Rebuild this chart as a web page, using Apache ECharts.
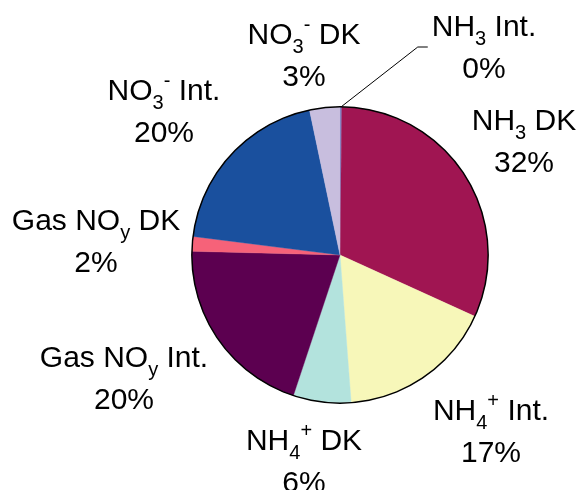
<!DOCTYPE html>
<html>
<head>
<meta charset="utf-8">
<script src="https://cdn.jsdelivr.net/npm/echarts@6/dist/echarts.min.js"></script>
<style>
  html, body { margin: 0; padding: 0; background: #fff; }
  #chart { width: 579px; height: 490px; }
</style>
</head>
<body>
<div id="chart"></div>
<script>
// Nitrogen source apportionment (percent of total)
const categories = [
  'NH{sub|3} Int.',
  'NH{sub|3} DK',
  'NH{sub|4}{sup|+} Int.',
  'NH{sub|4}{sup|+} DK',
  'Gas NO{sub|y} Int.',
  'Gas NO{sub|y} DK',
  'NO{sub|3}{sup|-} Int.',
  'NO{sub|3}{sup|-} DK'
];
const shares = [0.2, 31.6, 17.0, 6.3, 20.3, 1.6, 19.7, 3.3];

// slice fills, same order as categories
const sliceColors = ['#7878BE', '#A01552', '#F7F7B9', '#B3E3DD', '#5C0050', '#F66279', '#1A509E', '#C8BEDE'];

// centre of each two-line label block
const labelCenters = [
  [484, 49], [524, 143], [491, 433], [304, 463],
  [124, 380], [96, 243], [164, 113], [304, 57]
];

const pieCenter = [340, 255];
const pieRadius = 148;

const chart = echarts.init(document.getElementById('chart'));

const pieData = categories.map((name, i) => ({
  name: name,
  value: shares[i],
  itemStyle: { color: sliceColors[i], borderColor: sliceColors[i], borderWidth: 0.4 },
  labelLine: { show: i === 0 }
}));

const labelFont = 'Liberation Sans, Arial, sans-serif';

chart.setOption({
  animation: false,
  backgroundColor: '#ffffff',
  series: [
    {
      type: 'pie',
      center: pieCenter,
      radius: pieRadius,
      startAngle: 90,
      clockwise: true,
      avoidLabelOverlap: false,
      silent: true,
      data: pieData,
      label: {
        show: true,
        position: 'outside',
        fontFamily: labelFont,
        fontSize: 30,
        lineHeight: 42,
        color: '#000',
        align: 'center',
        formatter: p => p.name + '\n' + Math.round(p.percent) + '%',
        rich: {
          sub: { fontSize: 20, lineHeight: 20, verticalAlign: 'bottom', color: '#000', fontFamily: labelFont },
          sup: { fontSize: 20, lineHeight: 20, verticalAlign: 'top', color: '#000', fontFamily: labelFont }
        }
      },
      labelLine: {
        length: 10,
        length2: 10,
        lineStyle: { color: '#000', width: 1 }
      },
      labelLayout: function (params) {
        const c = labelCenters[params.dataIndex];
        const out = { x: c[0], y: c[1], align: 'center', verticalAlign: 'middle' };
        if (params.dataIndex === 0 && params.labelLinePoints) {
          const p0 = params.labelLinePoints[0];
          const endX = c[0] - params.labelRect.width / 2 - 4;
          const endY = c[1] - 2;
          out.labelLinePoints = [[p0[0], p0[1]], [endX - 10, endY], [endX, endY]];
        }
        return out;
      }
    },
    {
      // thin black outline around the pie
      type: 'pie',
      center: pieCenter,
      radius: [pieRadius - 0.6, pieRadius + 0.9],
      silent: true,
      label: { show: false },
      labelLine: { show: false },
      itemStyle: { color: '#000' },
      data: [{ value: 1, name: 'outline' }]
    }
  ]
});
</script>
</body>
</html>
